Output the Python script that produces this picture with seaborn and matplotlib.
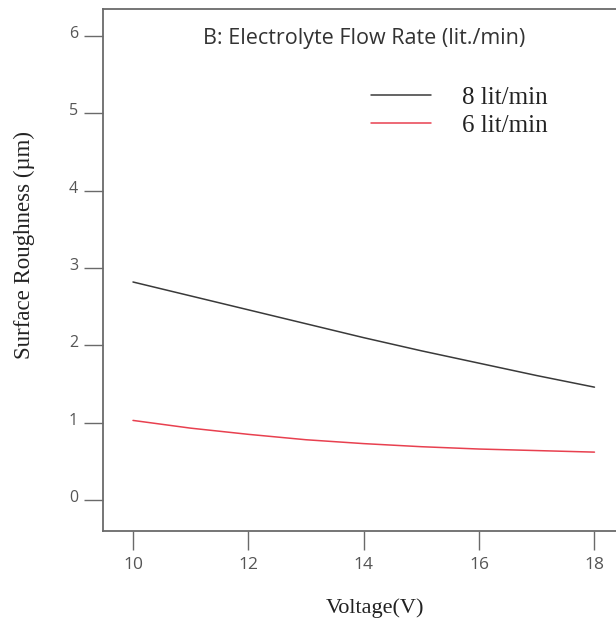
import pandas as pd
import matplotlib
matplotlib.use("Agg")
import matplotlib.pyplot as plt
import matplotlib.transforms as mtrans
import seaborn as sns

# values
voltage = [10, 11, 12, 13, 14, 15, 16, 17, 18]
rough_8 = [2.82, 2.64, 2.46, 2.28, 2.10, 1.93, 1.77, 1.61, 1.46]
rough_6 = [1.03, 0.93, 0.85, 0.78, 0.73, 0.69, 0.66, 0.64, 0.62]
series_names = ["8 lit/min", "6 lit/min"]
x_ticks = [10, 12, 14, 16, 18]
y_ticks = [0, 1, 2, 3, 4, 5, 6]

df = pd.concat([
    pd.DataFrame({"Voltage": voltage, "Roughness": rough_8, "Flow": series_names[0]}),
    pd.DataFrame({"Voltage": voltage, "Roughness": rough_6, "Flow": series_names[1]}),
])

sns.set_style("white")
fig = plt.figure(figsize=(6.16, 6.22), dpi=100)
ax = fig.add_axes([0.1672, 0.1463, 0.84, 0.8392])

sns.lineplot(data=df, x="Voltage", y="Roughness", hue="Flow",
             palette={series_names[0]: "#3a3a3a", series_names[1]: "#e8404f"},
             linewidth=1.1, ax=ax)

ax.set_xlim(9.48, 18.45)
ax.set_ylim(-0.4, 6.35)
ax.set_xticks(x_ticks)
ax.set_yticks(y_ticks)

grey = "#6a6a6a"
for side in ["left", "top", "bottom"]:
    ax.spines[side].set_color(grey)
    ax.spines[side].set_linewidth(1.3)
ax.spines["right"].set_visible(False)

ax.tick_params(axis="y", direction="out", length=14, width=1, color=grey,
               labelcolor="#555555", labelsize=11.5, pad=4, left=True)
ax.tick_params(axis="x", direction="out", length=14, width=1, color=grey,
               labelcolor="#555555", labelsize=12.5, pad=5, bottom=True)
# y tick labels sit a little above their ticks in the original
shift_up = mtrans.ScaledTranslation(0, 4 / 100, fig.dpi_scale_trans)
for lab in ax.get_yticklabels():
    lab.set_family("Open Sans")
    lab.set_transform(lab.get_transform() + shift_up)
for lab in ax.get_xticklabels():
    lab.set_family("Open Sans")

ax.set_xlabel("Voltage(V)", family="Liberation Serif", fontsize=16, color="#222222")
ax.set_ylabel("Surface Roughness (\u00b5m)", family="Liberation Serif", fontsize=16.5, color="#222222")
ax.xaxis.label.set_va("center")
ax.yaxis.label.set_va("center")
ax.xaxis.set_label_coords(0.526, -0.1475)
ax.yaxis.set_label_coords(-0.152, 0.548)

ax.text(0.505, 0.944, "B: Electrolyte Flow Rate (lit./min)", transform=ax.transAxes,
        ha="center", va="center", family="Open Sans", fontsize=15.5, color="#333333")

leg = ax.legend(loc="upper left", bbox_to_anchor=(0.493, 0.876), frameon=False,
                prop={"family": "Liberation Serif", "size": 18},
                handlelength=2.4, handletextpad=1.25, labelspacing=0.22, borderpad=0)
for t in leg.get_texts():
    t.set_color("#222222")

fig.savefig("out.png", dpi=100)
